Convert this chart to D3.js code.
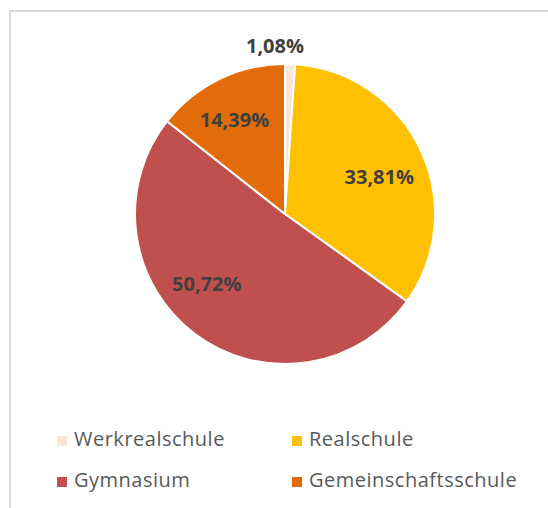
<!DOCTYPE html>
<html>
<head>
<meta charset="utf-8">
<script src="https://cdn.jsdelivr.net/npm/d3@7"></script>
<style>
  body { margin: 0; background: #fff; }
  svg { display: block; font-family: "Open Sans", Lato, sans-serif; }
</style>
</head>
<body>
<svg width="548" height="508"></svg>
<script>
var schools = ["Werkrealschule", "Realschule", "Gymnasium", "Gemeinschaftsschule"];
var shares = [1.08, 33.81, 50.72, 14.39];
var labels = ["1,08%", "33,81%", "50,72%", "14,39%"];
var colors = ["#fbe5d6", "#ffc000", "#c0504d", "#e26b0a"];

var data = schools.map(function(s, i) {
    return { school: s, share: shares[i], label: labels[i], color: colors[i] };
});

var svg = d3.select("svg"),
    width = +svg.attr("width"),
    height = +svg.attr("height"),
    radius = 150;

// chart frame (left + top edge visible)
svg.append("path")
    .attr("d", "M10," + height + " L10,11 L" + width + ",11")
    .attr("fill", "none")
    .attr("stroke", "#d9d9d9")
    .attr("stroke-width", 2);

var g = svg.append("g").attr("transform", "translate(285,214)");

var pie = d3.pie()
    .sort(null)
    .value(function(d) { return d.share; });

var path = d3.arc()
    .outerRadius(radius)
    .innerRadius(0);

var label = d3.arc()
    .outerRadius(radius * 0.68)
    .innerRadius(radius * 0.68);

var arcs = pie(data);

g.selectAll(".arc")
    .data(arcs)
    .enter().append("path")
      .attr("class", "arc")
      .attr("d", path)
      .attr("fill", function(d) { return d.data.color; })
      .attr("stroke", "#fff")
      .attr("stroke-width", 2);

// excel "best fit" moves labels a bit off the centroid
function labelPos(d) {
    if (d.data.share < 5) return [-10, -radius - 18];
    var c = label.centroid(d);
    if (d.data.school == "Gymnasium") return [c[0] - 17, c[1] - 12];
    if (d.data.school == "Realschule") return [c[0] + 2, c[1] + 6];
    return [c[0] - 6, c[1] - 2];
}

g.selectAll(".lbl")
    .data(arcs)
    .enter().append("text")
      .attr("class", "lbl")
      .attr("transform", function(d) { return "translate(" + labelPos(d) + ")"; })
      .attr("dy", "0.36em")
      .attr("text-anchor", "middle")
      .attr("font-size", 20)
      .attr("font-weight", "bold")
      .attr("fill", "#404040")
      .text(function(d) { return d.data.label; });

// legend, 2 columns
var legend = svg.selectAll(".legend")
    .data(data)
    .enter().append("g")
      .attr("class", "legend")
      .attr("transform", function(d, i) {
          var x = i % 2 == 0 ? 57 : 292;
          var y = i < 2 ? 446 : 487;
          return "translate(" + x + "," + y + ")";
      });

legend.append("rect")
    .attr("x", 0)
    .attr("y", -10)
    .attr("width", 10)
    .attr("height", 10)
    .attr("fill", function(d) { return d.color; });

legend.append("text")
    .attr("x", 17)
    .attr("font-size", 20)
    .attr("letter-spacing", 0.5)
    .attr("fill", "#595959")
    .text(function(d) { return d.school; });
</script>
</body>
</html>
